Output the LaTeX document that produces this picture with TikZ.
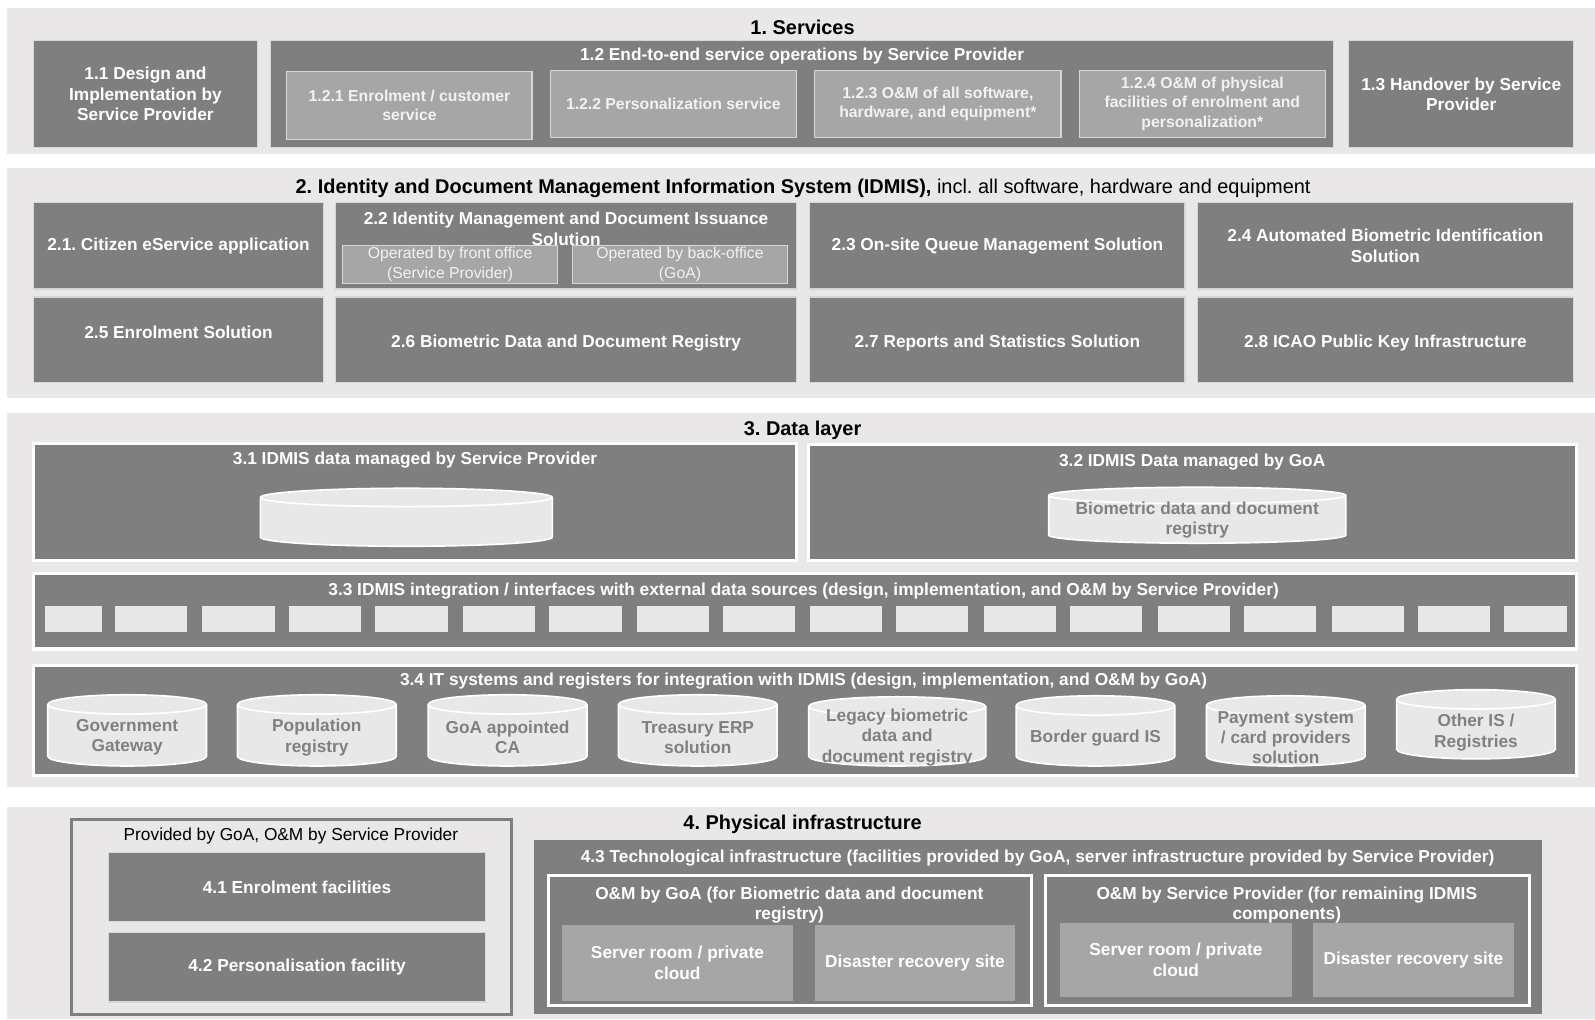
\documentclass[tikz,border=0pt]{standalone}
\usepackage{fontspec}
\setmainfont{Liberation Sans}
\frenchspacing

\definecolor{secgrey}{RGB}{233,231,232}
\definecolor{boxdark}{RGB}{127,127,127}
\definecolor{boxmid}{RGB}{166,166,166}
\definecolor{boxline}{RGB}{214,214,214}
\definecolor{dbfill}{RGB}{232,232,232}
\definecolor{dbgrey}{RGB}{128,128,128}
\definecolor{subtext}{RGB}{242,242,242}

\newcommand\boxfont{\bfseries\fontsize{17}{20}\selectfont}
\newcommand\subfont{\bfseries\fontsize{15.5}{19}\selectfont}
\newcommand\opfont{\fontsize{15.5}{19}\selectfont}
\newcommand\headfont{\bfseries\fontsize{19.6}{23}\selectfont}

% cylinder round a named box: node, half width, end radius
\newcommand\dbcyl[3]{%
  \path[dbline] ([yshift=-#3pt]#1.north west) -- ([yshift=#3pt]#1.south west)
    arc[start angle=180, end angle=360, x radius=#2pt, y radius=#3pt]
    -- ([yshift=-#3pt]#1.north east)
    arc[start angle=0, end angle=180, x radius=#2pt, y radius=#3pt] -- cycle
    ([yshift=-#3pt]#1.north west)
    arc[start angle=180, end angle=360, x radius=#2pt, y radius=#3pt];}

\begin{document}
\begin{tikzpicture}[x=1pt, y=-1pt,
    every node/.style={inner sep=0pt, outer sep=0pt, align=center},
    sz/.style 2 args={anchor=north west, minimum width=#1, minimum height=#2},
    secbg/.style={fill=secgrey},
    head/.style={font=\headfont, text=black},
    darkbox/.style={fill=boxdark, draw=boxline, line width=1.2pt, text=white, font=\boxfont},
    midbox/.style={fill=boxmid, draw=boxline, line width=1.2pt, text=subtext, font=\subfont},
    opbox/.style={fill=boxmid, draw=boxline, line width=1.2pt, text=subtext, font=\opfont},
    layerbox/.style={fill=boxdark, draw=white, line width=3pt},
    srvbox/.style={fill=boxmid, text=white, font=\boxfont},
    boxtext/.style={text=white, font=\boxfont},
    slot/.style={fill=dbfill, anchor=north west, minimum height=25pt},
    dbbox/.style={anchor=north},
    dbline/.style={fill=dbfill, draw=white, line width=1.6pt},
    dbtext/.style={text=dbgrey, font=\boxfont}]
    \useasboundingbox (0,0) rectangle (1568,1002);

    % 1. Services
    \draw (7,8) node[secbg, sz={1561pt}{143pt}] (sec1) {};
    \draw (789,27) node[head] (h1) {1. Services};
    \draw (33,40) node[darkbox, sz={220pt}{105pt}] (s11) {1.1 Design and\\Implementation  by\\Service Provider};
    \draw (266,40) node[darkbox, sz={1045pt}{105pt}] (s12) {};
    \draw (788.5,55) node[boxtext] (s12t) {1.2 End-to-end service operations by Service Provider};
    \draw (282,70) node[midbox, sz={241pt}{67pt}] (s121) {1.2.1 Enrolment / customer\\service};
    \draw (541,69) node[midbox, sz={242pt}{66pt}] (s122) {1.2.2 Personalization service};
    \draw (801,69) node[midbox, sz={242pt}{66pt}] (s123) {1.2.3 O\&M of all software,\\hardware, and equipment*};
    \draw (1061,69) node[midbox, sz={242pt}{66pt}] (s124) {1.2.4 O\&M of physical\\facilities of enrolment and\\personalization*};
    \draw (1326,40) node[darkbox, sz={221pt}{105pt}] (s13) {1.3 Handover by Service\\Provider};

    % 2. IDMIS
    \draw (7,165) node[secbg, sz={1561pt}{226pt}] (sec2) {};
    \draw (789.5,185) node[head] (h2) {2. Identity and Document Management Information System (IDMIS), {\mdseries incl. all software, hardware and equipment}};
    \draw (33,199) node[darkbox, sz={285pt}{85pt}] (s21) {2.1. Citizen eService application};
    \draw (330,199) node[darkbox, sz={453pt}{85pt}] (s22) {};
    \draw (556.5,225) node[boxtext] (s22t) {2.2 Identity Management and Document Issuance\\Solution};
    \draw (337,241) node[opbox, sz={211pt}{38pt}] (s22a) {Operated by front office\\(Service Provider)};
    \draw (563,241) node[opbox, sz={211pt}{38pt}] (s22b) {Operated by back-office\\(GoA)};
    \draw (796,199) node[darkbox, sz={369pt}{85pt}] (s23) {2.3 On-site Queue Management Solution};
    \draw (1177,199) node[darkbox, sz={370pt}{85pt}] (s24) {2.4 Automated  Biometric Identification\\Solution};
    \draw (33,292) node[darkbox, sz={285pt}{84pt}] (s25) {};
    \draw (175.5,327) node[boxtext] (s25t) {2.5 Enrolment Solution};
    \draw (330,292) node[darkbox, sz={453pt}{84pt}] (s26) {};
    \draw (556.5,337) node[boxtext] (s26t) {2.6 Biometric Data and Document Registry};
    \draw (796,292) node[darkbox, sz={369pt}{84pt}] (s27) {};
    \draw (980.5,337) node[boxtext] (s27t) {2.7 Reports and Statistics Solution};
    \draw (1177,292) node[darkbox, sz={370pt}{84pt}] (s28) {};
    \draw (1362,337) node[boxtext] (s28t) {2.8 ICAO Public Key Infrastructure};

    % 3. Data layer
    \draw (7,406) node[secbg, sz={1561pt}{368pt}] (sec3) {};
    \draw (789,423) node[head] (h3) {3. Data layer};
    \draw (33,436) node[layerbox, sz={750pt}{115pt}] (s31) {};
    \draw (408,452) node[boxtext] (s31t) {3.1 IDMIS data managed by Service Provider};
    \draw (399.5,480) node[dbbox, minimum width=287pt, minimum height=57pt] (db31) {};
    \dbcyl{db31}{143.5}{9}
    \draw (795,437) node[layerbox, sz={755pt}{114pt}] (s32) {};
    \draw (1172,454) node[boxtext] (s32t) {3.2 IDMIS Data managed by GoA};
    \draw (1177,479) node[dbbox, minimum width=292pt, minimum height=55pt] (db32) {};
    \dbcyl{db32}{146}{8}
    \draw (1177,511) node[dbtext] (db32t) {Biometric data and document\\registry};

    \draw (33,564) node[layerbox, sz={1517pt}{74pt}] (s33) {};
    \draw (790,581) node[boxtext] (s33t) {3.3 IDMIS integration / interfaces with external data sources (design, implementation, and O\&M by Service Provider)};
    \draw (44,596) node[slot, minimum width=56pt] (if1) {};
    \draw (113,596) node[slot, minimum width=71pt] (if2) {};
    \draw (199,596) node[slot, minimum width=71pt] (if3) {};
    \draw (284,596) node[slot, minimum width=71pt] (if4) {};
    \draw (369,596) node[slot, minimum width=71pt] (if5) {};
    \draw (455,596) node[slot, minimum width=71pt] (if6) {};
    \draw (540,596) node[slot, minimum width=71pt] (if7) {};
    \draw (626,596) node[slot, minimum width=71pt] (if8) {};
    \draw (711,596) node[slot, minimum width=71pt] (if9) {};
    \draw (796,596) node[slot, minimum width=71pt] (if10) {};
    \draw (881,596) node[slot, minimum width=71pt] (if11) {};
    \draw (967,596) node[slot, minimum width=71pt] (if12) {};
    \draw (1052,596) node[slot, minimum width=71pt] (if13) {};
    \draw (1138,596) node[slot, minimum width=71pt] (if14) {};
    \draw (1223,596) node[slot, minimum width=71pt] (if15) {};
    \draw (1309,596) node[slot, minimum width=71pt] (if16) {};
    \draw (1394,596) node[slot, minimum width=71pt] (if17) {};
    \draw (1479,596) node[slot, minimum width=61pt] (if18) {};

    \draw (33,654) node[layerbox, sz={1517pt}{108pt}] (s34) {};
    \draw (790,670) node[boxtext] (s34t) {3.4 IT systems and registers for integration with IDMIS (design, implementation, and O\&M by GoA)};
    \draw (125,683) node[dbbox, minimum width=156pt, minimum height=70pt] (gg) {};
    \dbcyl{gg}{78}{9.5}
    \draw (125,725) node[dbtext] (ggt) {Government\\Gateway};
    \draw (311.5,683) node[dbbox, minimum width=156pt, minimum height=70pt] (pr) {};
    \dbcyl{pr}{78}{9.5}
    \draw (311.5,725) node[dbtext] (prt) {Population\\registry};
    \draw (499,683) node[dbbox, minimum width=156pt, minimum height=70pt] (ca) {};
    \dbcyl{ca}{78}{9.5}
    \draw (499,725) node[dbtext] (cat) {GoA appointed\\CA};
    \draw (686,683) node[dbbox, minimum width=156pt, minimum height=70pt] (erp) {};
    \dbcyl{erp}{78}{9.5}
    \draw (686,725) node[dbtext] (erpt) {Treasury ERP\\solution};
    \draw (882,685) node[dbbox, minimum width=174pt, minimum height=68pt] (leg) {};
    \dbcyl{leg}{87}{9.5}
    \draw (882,725) node[dbtext] (legt) {Legacy biometric\\data and\\document registry};
    \draw (1077,684) node[dbbox, minimum width=156pt, minimum height=69pt] (bg) {};
    \dbcyl{bg}{78}{9.5}
    \draw (1077,726) node[dbtext] (bgt) {Border guard IS};
    \draw (1264,684) node[dbbox, minimum width=156pt, minimum height=69pt] (pay) {};
    \dbcyl{pay}{78}{9.5}
    \draw (1264,725) node[dbtext] (payt) {Payment system\\/ card providers\\solution};
    \draw (1451,678) node[dbbox, minimum width=156pt, minimum height=68pt] (oth) {};
    \dbcyl{oth}{78}{9.5}
    \draw (1451,720) node[dbtext] (otht) {Other IS /\\Registries};

    % 4. Physical infrastructure
    \draw (7,793) node[secbg, sz={1561pt}{209pt}] (sec4) {};
    \draw (789,810) node[head] (h4) {4. Physical infrastructure};
    \draw (70,806) node[secbg, draw=boxdark, line width=3pt, sz={433pt}{191pt}] (goa) {};
    \draw (286,822) node[font=\fontsize{17}{20}\selectfont] (goat) {Provided by GoA, O\&M by Service Provider};
    \draw (107,838) node[darkbox, sz={370pt}{68pt}] (p41) {4.1 Enrolment facilities};
    \draw (107,917) node[darkbox, sz={370pt}{68pt}] (p42) {4.2 Personalisation facility};
    \draw (525,826) node[darkbox, draw=none, sz={991pt}{171pt}] (p43) {};
    \draw (1020,844) node[boxtext] (p43t) {4.3 Technological infrastructure (facilities provided by GoA, server infrastructure provided by Service Provider)};
    \draw (539,861) node[layerbox, sz={475pt}{127pt}] (omg) {};
    \draw (776,890) node[boxtext] (omgt) {O\&M by GoA (for Biometric data and document\\registry)};
    \draw (552,909) node[srvbox, sz={228pt}{75pt}] (srv1) {Server room / private\\cloud};
    \draw (801,909) node[srvbox, sz={197pt}{75pt}] (dr1) {Disaster recovery site};
    \draw (1028,861) node[layerbox, sz={476pt}{127pt}] (omsp) {};
    \draw (1265,890) node[boxtext] (omspt) {O\&M by Service Provider (for remaining IDMIS\\components)};
    \draw (1042,907) node[srvbox, sz={228pt}{73pt}] (srv2) {Server room / private\\cloud};
    \draw (1291,907) node[srvbox, sz={197pt}{73pt}] (dr2) {Disaster recovery site};
\end{tikzpicture}
\end{document}
